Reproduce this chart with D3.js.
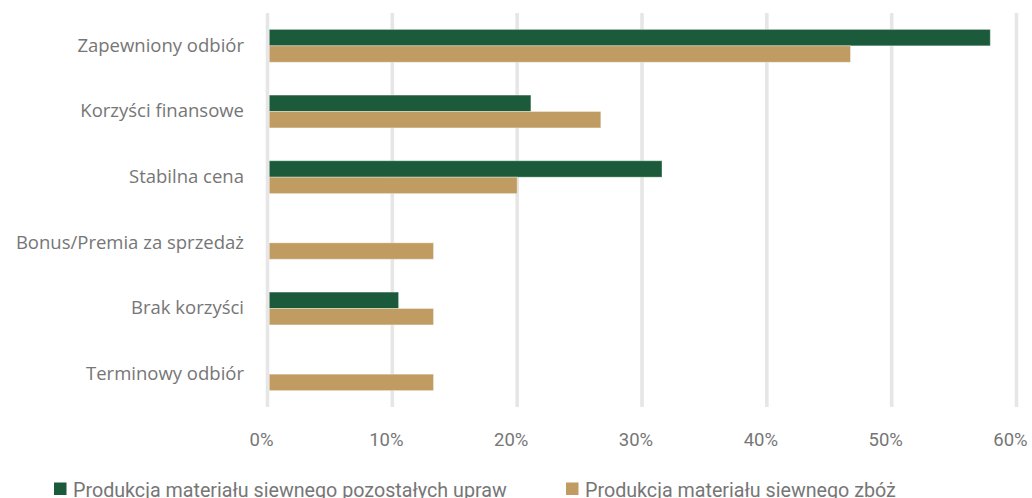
<!DOCTYPE html>
<html>
<head>
<meta charset="utf-8">
<script src="https://cdn.jsdelivr.net/npm/d3@7"></script>
<style>
  html, body { margin: 0; padding: 0; background: #fff; overflow: hidden; }
  svg { display: block; }
  text { font-family: "Inter", "Noto Sans", sans-serif; fill: #767676; }
</style>
</head>
<body>
<svg id="chart" width="1032" height="498"></svg>
<script>
// Categories (top to bottom)
const categories = [
  "Zapewniony odbiór",
  "Korzyści finansowe",
  "Stabilna cena",
  "Bonus/Premia za sprzedaż",
  "Brak korzyści",
  "Terminowy odbiór"
];

// Series names
const seriesNames = [
  "Produkcja materiału siewnego pozostałych upraw",
  "Produkcja materiału siewnego zbóż"
];

// Share of answers (%) per category
const otherCropsValues = [57.9, 21.1, 31.6, 0, 10.5, 0];
const cerealsValues    = [46.7, 26.7, 20.0, 13.3, 13.3, 13.3];

// Axis ticks (%)
const tickValues = [0, 10, 20, 30, 40, 50, 60];

const colors = ["#1b5a3a", "#c09b62"];

const rows = categories.map((c, i) => ({
  category: c,
  values: [otherCropsValues[i], cerealsValues[i]]
}));

const svg = d3.select("#chart");

const x = d3.scaleLinear().domain([0, 60]).range([267.5, 1016.5]);
const y = d3.scaleBand().domain(categories).range([13, 407])
  .paddingInner(0.5).paddingOuter(0.25);
const ySub = d3.scaleBand().domain(d3.range(seriesNames.length))
  .range([0, y.bandwidth()]);

const gridW = 3.6;

// vertical gridlines
svg.append("g")
  .selectAll("line")
  .data(tickValues)
  .join("line")
  .attr("x1", d => x(d)).attr("x2", d => x(d))
  .attr("y1", 13).attr("y2", 407)
  .attr("stroke", "#e6e6e6")
  .attr("stroke-width", gridW);

// x axis labels
const xAxis = d3.axisBottom(x)
  .tickValues(tickValues)
  .tickFormat(d => d + "%")
  .tickSize(0)
  .tickPadding(0);

const gx = svg.append("g")
  .attr("transform", "translate(-6.5,433)")
  .call(xAxis);
gx.select(".domain").remove();
gx.selectAll("text")
  .attr("font-size", 18.5)
  .style("font-family", "'Roboto', sans-serif")
  .attr("fill", "#767676");

// y axis labels
const yAxis = d3.axisLeft(y).tickSize(0).tickPadding(0);
const gy = svg.append("g")
  .attr("transform", "translate(244,0)")
  .call(yAxis);
gy.select(".domain").remove();
gy.selectAll("text")
  .attr("font-size", 18.5)
  .attr("fill", "#767676")
  .style("font-family", "'Open Sans', sans-serif");

// bars
const groups = svg.append("g")
  .selectAll("g")
  .data(rows)
  .join("g")
  .attr("transform", d => `translate(0,${y(d.category)})`);

groups.selectAll("rect")
  .data(d => d.values.map((v, k) => ({ v, k })).filter(e => e.v > 0))
  .join("rect")
  .attr("x", x(0) + gridW / 2)
  .attr("y", e => ySub(e.k))
  .attr("width", e => x(e.v) - x(0) - gridW / 2)
  .attr("height", ySub.bandwidth())
  .attr("fill", e => colors[e.k])
  .attr("stroke", "rgba(255,255,255,0.35)")
  .attr("stroke-width", 1);

// legend
const legendX = [54, 566];
const legend = svg.append("g")
  .selectAll("g")
  .data(seriesNames)
  .join("g")
  .attr("transform", (d, i) => `translate(${legendX[i]},482.5)`);

legend.append("rect")
  .attr("width", 12.5).attr("height", 12.5)
  .attr("fill", (d, i) => colors[i]);

legend.append("text")
  .attr("x", 19)
  .attr("y", 14)
  .attr("font-size", 19.7)
  .style("font-family", "'Roboto', sans-serif")
  .attr("fill", "#767676")
  .text(d => d);
</script>
</body>
</html>
